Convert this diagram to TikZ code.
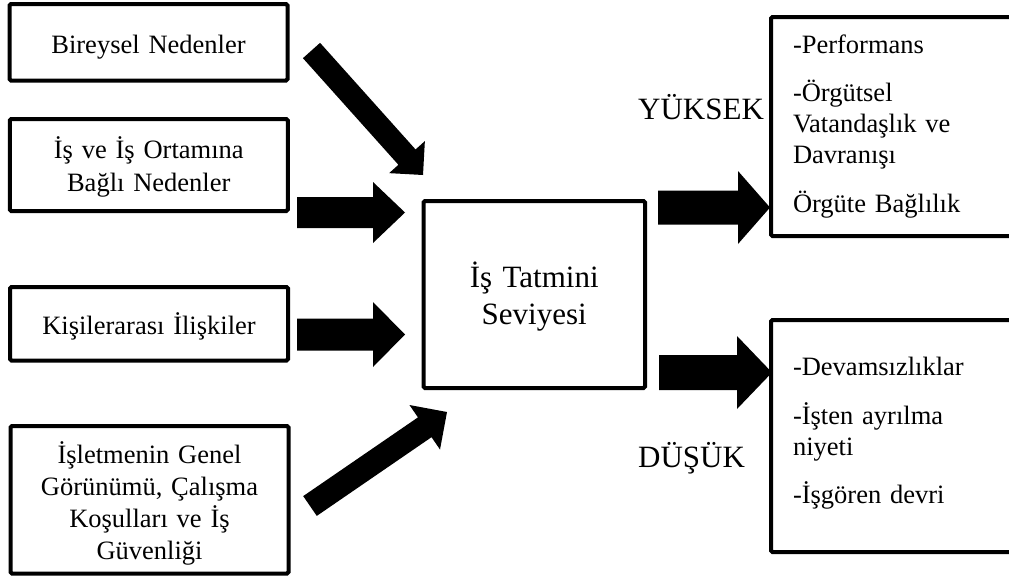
\documentclass[tikz,border=0pt]{standalone}
\usepackage{fontspec}
\setmainfont{Liberation Serif}
\usetikzlibrary{calc}

% Filled block arrow: #1 tail, #2 tip, #3 shaft half width,
% #4 head half width, #5 head length
\newcommand\blockarrow[5]{%
  \coordinate (hb) at ($(#2)!#5!(#1)$);
  \fill ($(#1)!#3!90:(#2)$) -- ($(hb)!#3!90:(#2)$) -- ($(hb)!#4!90:(#2)$) -- (#2)
    -- ($(hb)!#4!-90:(#2)$) -- ($(hb)!#3!-90:(#2)$) -- ($(#1)!#3!-90:(#2)$) -- cycle;}

\tikzset{
  box/.style={draw, line width=4pt, rounded corners=1.5pt, inner sep=0pt,
    outer sep=0pt, align=center},
  cause/.style={box, minimum width=278pt, text width=262pt},
  result/.style={box, align=left, minimum width=269pt, text width=225pt,
    text height=0pt, font=\fontsize{26.5}{31}\selectfont},
  level/.style={anchor=base west, inner sep=0pt, font=\fontsize{31}{37}\selectfont}
}

\begin{document}
\begin{tikzpicture}[x=1pt, y=-1pt]
  \useasboundingbox (0,0) rectangle (1009,581);
  \fill[white] (0,0) rectangle (1009,581);

  % causes
  \node[cause, minimum height=76.5pt, text height=21.5pt, text depth=0pt,
    font=\fontsize{26.5}{33}\selectfont] (c1) at (148.5,42.25) {Bireysel Nedenler};
  \node[cause, minimum height=92pt, text height=0pt, text depth=14pt,
    font=\fontsize{26.5}{33}\selectfont] (c2) at (148.75,165)
    {İş ve İş Ortamına\\ Bağlı Nedenler};
  \node[cause, minimum height=73.5pt, text height=20.5pt, text depth=0pt,
    font=\fontsize{26.5}{33}\selectfont] (c3) at (149,323.75) {Kişilerarası İlişkiler};
  \node[cause, minimum height=147.5pt, text height=0pt, text depth=73.5pt,
    font=\fontsize{26.5}{32}\selectfont] (c4) at (149.5,499.75)
    {İşletmenin Genel\\ Görünümü, Çalışma\\ Koşulları ve İş\\ Güvenliği};

  % satisfaction level
  \node[box, minimum width=221.5pt, minimum height=187pt, text width=205pt,
    text height=0pt, text depth=15pt, font=\fontsize{31}{37}\selectfont]
    (sat) at (534.25,294.5) {İş Tatmini\\ Seviyesi};

  % outcomes
  \node[result, minimum height=219pt, text depth=147pt] (high) at (905.5,126.5)
    {-Performans\\[17pt] -Örgütsel\\ Vatandaşlık ve\\ Davranışı\\[18pt] Örgüte Bağlılık};
  \node[result, minimum height=232pt, text depth=122pt] (low) at (905.5,436)
    {-Devamsızlıklar\\[18pt] -İşten ayrılma\\ niyeti\\[17pt] -İşgören devri};

  \node[level] (yuksek) at (638,119) {YÜKSEK};
  \node[level] (dusuk) at (638,467) {DÜŞÜK};

  % arrow end points
  \coordinate (a1t) at (311.5,50.5);  \coordinate (a1h) at (423,175);
  \coordinate (a2t) at (297,212.5);   \coordinate (a2h) at (405,212.5);
  \coordinate (a3t) at (297,334.5);   \coordinate (a3h) at (405,334.5);
  \coordinate (a4t) at (310,506);     \coordinate (a4h) at (447,412);
  \coordinate (a5t) at (658,207.5);   \coordinate (a5h) at (770,207.5);
  \coordinate (a6t) at (659,372.5);   \coordinate (a6h) at (772,372.5);

  \blockarrow{a1t}{a1h}{11.5pt}{24pt}{24pt}
  \blockarrow{a2t}{a2h}{15.5pt}{30.5pt}{32pt}
  \blockarrow{a3t}{a3h}{16pt}{32.5pt}{32pt}
  \blockarrow{a4t}{a4h}{12pt}{27pt}{27pt}
  \blockarrow{a5t}{a5h}{17pt}{36.5pt}{32pt}
  \blockarrow{a6t}{a6h}{17.5pt}{36.5pt}{35pt}
\end{tikzpicture}
\end{document}
